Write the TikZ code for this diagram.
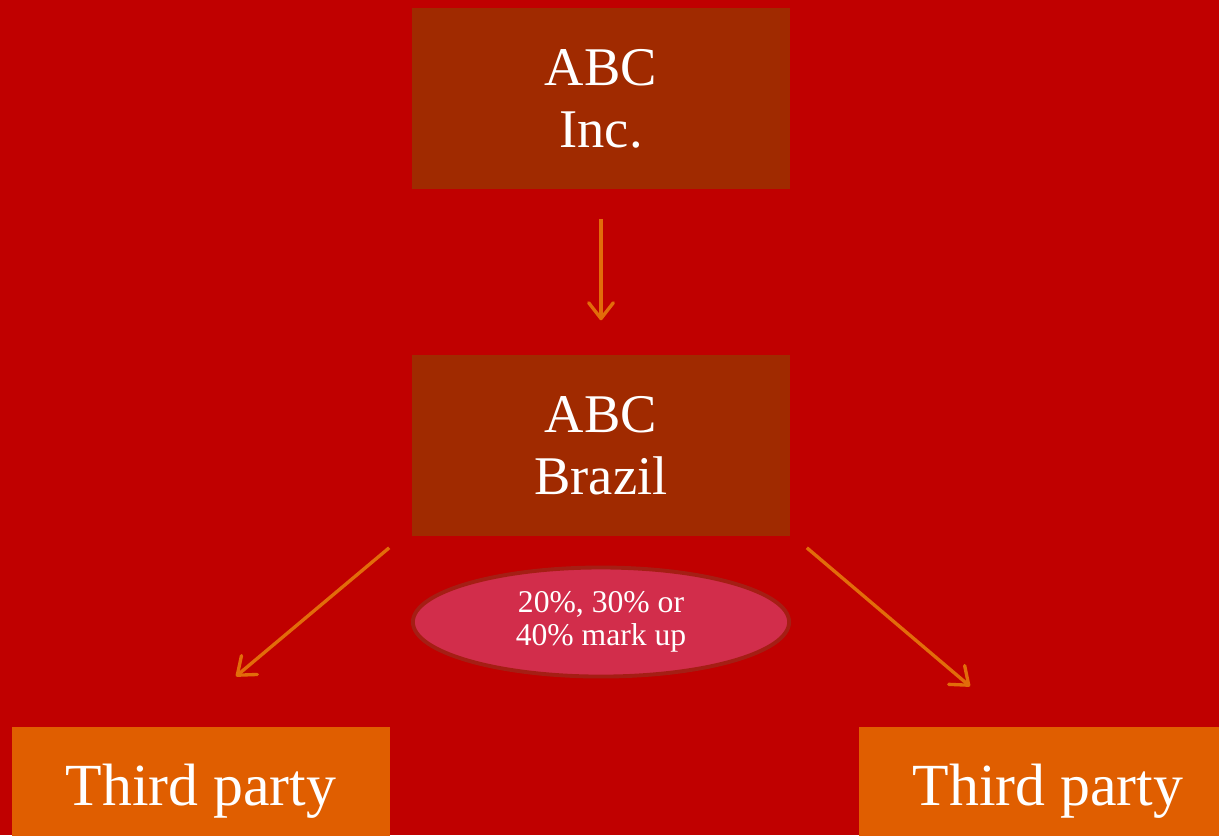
\documentclass[tikz,border=0pt]{standalone}
\usepackage{fontspec}
\setmainfont{Liberation Serif}
\usetikzlibrary{calc, arrows.meta, shapes.geometric, positioning}
\definecolor{bgred}{RGB}{192,0,0}
\definecolor{boxbrown}{RGB}{160,42,0}
\definecolor{boxorange}{RGB}{224,94,0}
\definecolor{arroworange}{RGB}{226,108,10}
\definecolor{ovalfill}{RGB}{210,45,75}
\definecolor{ovalline}{RGB}{165,30,20}
\tikzstyle{entity} = [rectangle, fill=boxbrown, text=white, align=center, inner sep=0pt,
  minimum width=3.78cm, minimum height=1.81cm, font=\fontsize{15.5}{17.6}\selectfont]
\tikzstyle{party} = [entity, fill=boxorange, minimum height=1.28cm, font=\fontsize{17}{18}\selectfont]
\tikzstyle{markup} = [ellipse, fill=ovalfill, draw=ovalline, line width=1.1pt, text=white,
  align=center, inner sep=0pt, minimum width=3.76cm, minimum height=1.09cm,
  font=\fontsize{9}{9.4}\selectfont]
\tikzstyle{flow} = [draw=arroworange, line width=0.95pt, -{Straight Barb[length=4.5pt, width=7pt, round]}]

\begin{document}
\begin{tikzpicture}[x=0.01cm, y=-0.01cm]
% Page and background
\clip (0,0) rectangle (1219,835);
\fill[bgred] (0,0) rectangle (1219,835);

% Draw the companies
\node[entity] (inc) at (601,98.5) {ABC\\Inc.};
\node[entity] (brazil) at (601,445.5) {ABC\\Brazil};
\node[party] (left) at (201,791) {Third party};
\node[party] (right) at (1048,791) {Third party};

% Mark up label
\node[markup] (mark) at (601,622) {20\%, 30\% or\\40\% mark up};

% Arrow ends
\coordinate (incout) at ($(inc.south)+(0,29)$);
\coordinate (brazilin) at ($(brazil.north)+(0,-34)$);
\coordinate (outleft) at ($(brazil.south west)+(-22,11)$);
\coordinate (inleft) at ($(left.north)+(35,-50)$);
\coordinate (outright) at ($(brazil.south east)+(16,11)$);
\coordinate (inright) at ($(right.north)+(-78,-40)$);

% Draw arrows
\foreach \a/\b in {incout/brazilin, outleft/inleft, outright/inright}
    \draw[flow] (\a) -- (\b);
\end{tikzpicture}
\end{document}
